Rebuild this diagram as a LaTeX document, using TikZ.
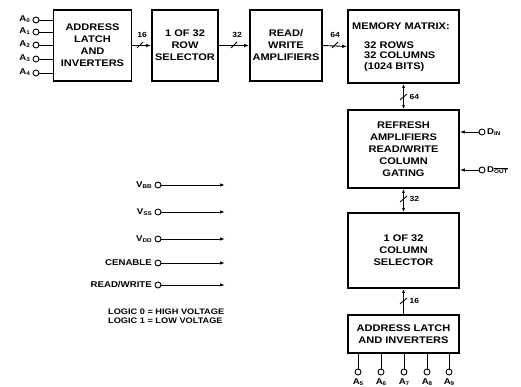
\documentclass[tikz,border=0pt]{standalone}
\usepackage{fontspec}
\setmainfont{Liberation Sans}
\newfontfamily\dgmfont[FakeStretch=1.15]{Liberation Sans}
\usetikzlibrary{arrows.meta,calc}
\newcommand{\sbs}[1]{\raisebox{-1.6pt}{\fontsize{5.5}{6}\selectfont #1}}
\begin{document}
\begin{tikzpicture}[x=1pt,y=-1pt,
  blk/.style={draw, line width=1.8pt, align=center, inner sep=0pt,
    font=\dgmfont\bfseries\fontsize{9.6}{12}\selectfont},
  txt/.style={font=\dgmfont\bfseries\fontsize{9.6}{10.5}\selectfont, inner sep=1pt},
  sig/.style={font=\dgmfont\bfseries\fontsize{8.4}{10}\selectfont, inner sep=1pt},
  pin/.style={circle, draw, line width=0.9pt, minimum size=6pt, inner sep=0pt},
  wire/.style={line width=0.9pt},
  arr/.style={line width=0.9pt, -{Latex[length=5pt,width=3.5pt]}},
  buslbl/.style={font=\dgmfont\bfseries\fontsize{7.4}{8}\selectfont, inner sep=0.5pt}
]
\useasboundingbox (0,0) rectangle (521,387);

% top row boxes
\node[blk, minimum width=78pt, minimum height=71pt] (lat) at (92.5,45.5) {ADDRESS\\LATCH\\AND\\INVERTERS};
\node[blk, minimum width=66pt, minimum height=71pt] (row) at (185,45.5) {1 OF 32\\ROW\\SELECTOR};
\node[blk, minimum width=72pt, minimum height=71pt] (rw) at (286,45.5) {READ/\\WRITE\\AMPLIFIERS};
\node[blk, minimum width=111pt, minimum height=73pt] (mem) at (403.5,46.5) {};
\node[txt, anchor=west] (m1) at (351,26) {MEMORY MATRIX:};
\node[txt, anchor=west, align=left] (m2) at (363,56.5) {32 ROWS\\32 COLUMNS\\(1024 BITS)};

% right column boxes
\node[blk, minimum width=111pt, minimum height=78pt] (ref) at (403.5,149) {REFRESH\\AMPLIFIERS\\READ/WRITE\\COLUMN\\GATING};
\node[blk, minimum width=111pt, minimum height=75pt] (col) at (403.5,250.5) {1 OF 32\\COLUMN\\SELECTOR};
\node[blk, minimum width=111pt, minimum height=38pt] (lat2) at (403.5,334) {ADDRESS LATCH\\AND INVERTERS};

% address pins A0-A4
\foreach \i/\y in {0/20,1/32,2/45,3/59,4/73}{
  \node[pin] (a\i) at (36,\y) {};
  \node[sig, anchor=east] (la\i) at (31,\y-1) {A\sbs{\i}};
  \draw[wire] (a\i.east) -- (lat.west |- a\i);
}

% horizontal buses
\draw[arr] (lat.east) -- (row.west);
\draw[wire] (137,48) -- (143,42);
\node[buslbl] (b16) at (142,35) {16};
\draw[arr] (row.east) -- (rw.west);
\draw[wire] (231,48) -- (237,42);
\node[buslbl] (b32) at (237,35) {32};
\draw[arr] (rw.east) -- (mem.west);
\draw[wire] (332,48) -- (338,42);
\node[buslbl] (b64) at (335,35) {64};

% vertical buses
\draw[wire, {Latex[length=4pt,width=3pt]}-{Latex[length=4pt,width=3pt]}] (mem.south) -- (ref.north);
\draw[wire] (400,100) -- (407,94);
\node[buslbl, anchor=west] (v64) at (409,97) {64};
\draw[wire, {Latex[length=4pt,width=3pt]}-{Latex[length=4pt,width=3pt]}] (ref.south) -- (col.north);
\draw[wire] (400,202) -- (407,196);
\node[buslbl, anchor=west] (v32) at (409,199) {32};
\draw[wire, -{Latex[length=4pt,width=3pt]}] (lat2.north) -- (col.south);
\draw[wire] (400,304) -- (407,298);
\node[buslbl, anchor=west] (v16) at (409,301) {16};

% data pins
\node[pin] (din) at (482,132) {};
\node[sig, anchor=west] (ldin) at (486,132) {D\sbs{IN}};
\draw[arr] (din.west) -- (ref.east |- din);
\node[pin] (dout) at (482,170) {};
\node[sig, anchor=west] (ldout) at (486,170) {D\sbs{$\overline{\mbox{OUT}}$}};
\draw[arr] (dout.west) -- (ref.east |- dout);

% column address pins
\foreach \i/\x in {5/358,6/381,7/404,8/427,9/449}{
  \node[pin] (c\i) at (\x,372) {};
  \node[sig] (lc\i) at (\x,382) {A\sbs{\i}};
  \draw[wire] (c\i.north) -- (c\i |- lat2.south);
}

% control signals
\foreach \n/\lbl/\y in {bb/{V\sbs{BB}}/185, ss/{V\sbs{SS}}/212, dd/{V\sbs{DD}}/239, ce/{CENABLE}/263, rwp/{READ/WRITE}/285}{
  \node[pin] (s\n) at (158,\y) {};
  \node[sig, anchor=east] (l\n) at (153,\y) {\lbl};
  \coordinate (e\n) at (225,\y);
  \draw[arr] (s\n.east) -- (e\n);
}

\node[sig, anchor=west, align=left, font=\dgmfont\bfseries\fontsize{8}{9}\selectfont] (logic) at (107,316) {LOGIC 0 = HIGH VOLTAGE\\LOGIC 1 = LOW VOLTAGE};
\end{tikzpicture}
\end{document}
